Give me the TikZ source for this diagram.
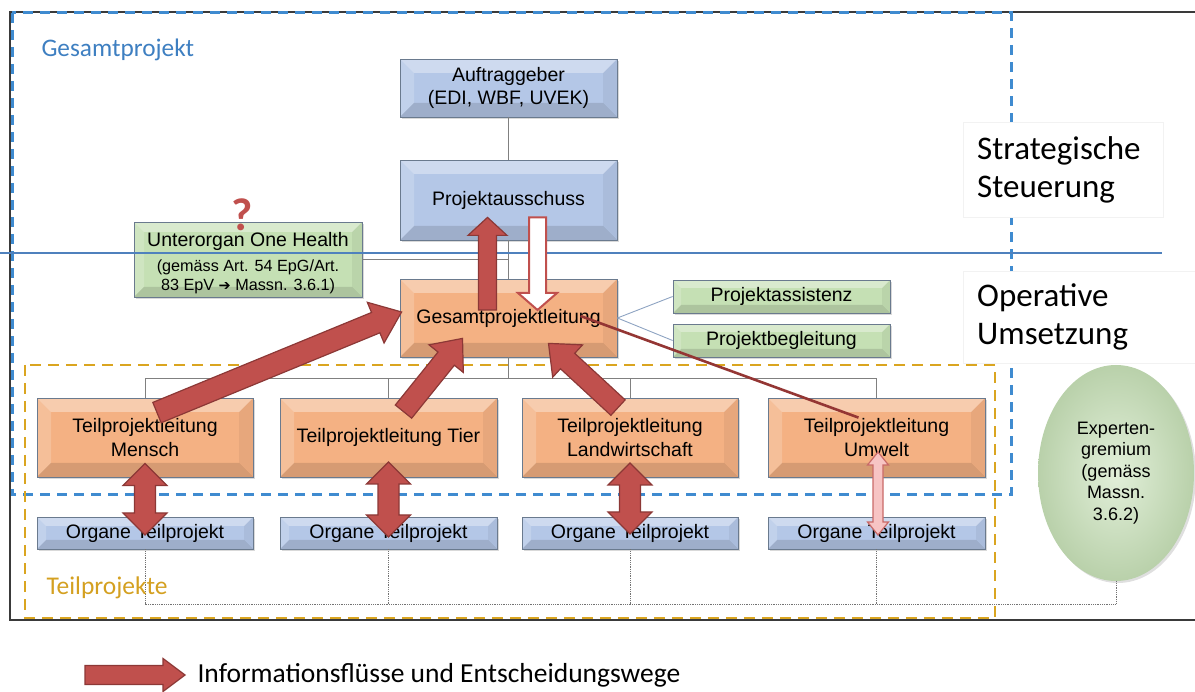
\documentclass[tikz,border=0pt]{standalone}
\usepackage{fontspec}
\setmainfont{Liberation Sans}
\newfontfamily\calfont{Carlito}
\newfontfamily\djv{DejaVu Sans}
\usetikzlibrary{calc,shapes.geometric,shadows}
\definecolor{boxblue}{HTML}{B4C7E7}
\definecolor{boxorange}{HTML}{F4B183}
\definecolor{boxgreen}{HTML}{C5E0B4}
\definecolor{boxline}{HTML}{6A7A8E}
\definecolor{arrred}{HTML}{C0504D}
\definecolor{arrline}{HTML}{8C3836}
\definecolor{dashblue}{HTML}{3F8BD0}
\definecolor{dashgold}{HTML}{DAA520}
\definecolor{hline}{HTML}{4F81BD}
\definecolor{labelblue}{HTML}{3E7FC1}
\definecolor{labelgold}{HTML}{D4A020}
\definecolor{thinred}{HTML}{943634}
\definecolor{pinkfill}{HTML}{F7C4C4}
\definecolor{framec}{HTML}{3A3A3A}
\definecolor{sideline}{HTML}{8EA3C2}

\newcommand\fatarr[6]{%
 \draw[#6] let \p1=(#1), \p2=(#2), \n1={atan2(\y2-\y1,\x2-\x1)}, \p3=($(\p2)!#5pt!(\p1)$) in
 ($(\p1)+({\n1+90}:#3pt)$) -- ($(\p3)+({\n1+90}:#3pt)$) -- ($(\p3)+({\n1+90}:#4pt)$) -- (\p2) -- ($(\p3)+({\n1-90}:#4pt)$) -- ($(\p3)+({\n1-90}:#3pt)$) -- ($(\p1)+({\n1-90}:#3pt)$) -- cycle;}
\newcommand\dblarr[6]{%
 \draw[#6] let \p1=(#1), \p2=(#2), \n1={atan2(\y2-\y1,\x2-\x1)}, \p3=($(\p1)!#5pt!(\p2)$), \p4=($(\p2)!#5pt!(\p1)$) in
 (\p1) -- ($(\p3)+({\n1+90}:#4pt)$) -- ($(\p3)+({\n1+90}:#3pt)$) -- ($(\p4)+({\n1+90}:#3pt)$) -- ($(\p4)+({\n1+90}:#4pt)$) -- (\p2) -- ($(\p4)+({\n1-90}:#4pt)$) -- ($(\p4)+({\n1-90}:#3pt)$) -- ($(\p3)+({\n1-90}:#3pt)$) -- ($(\p3)+({\n1-90}:#4pt)$) -- cycle;}

\tikzset{
 bevel/.style={path picture={
  \fill[white,opacity=.35] let \p1=(path picture bounding box.north west), \p2=(path picture bounding box.south east) in (\x1,\y1) -- (\x2,\y1) -- (\x2-#1,\y1-#1) -- (\x1+#1,\y1-#1) -- cycle;
  \fill[white,opacity=.18] let \p1=(path picture bounding box.north west), \p2=(path picture bounding box.south east) in (\x1,\y1) -- (\x1+#1,\y1-#1) -- (\x1+#1,\y2+#1) -- (\x1,\y2) -- cycle;
  \fill[black,opacity=.05] let \p1=(path picture bounding box.north west), \p2=(path picture bounding box.south east) in (\x2,\y1) -- (\x2,\y2) -- (\x2-#1,\y2+#1) -- (\x2-#1,\y1-#1) -- cycle;
  \fill[black,opacity=.12] let \p1=(path picture bounding box.north west), \p2=(path picture bounding box.south east) in (\x1,\y2) -- (\x1+#1,\y2+#1) -- (\x2-#1,\y2+#1) -- (\x2,\y2) -- cycle;
 }},
 box/.style={draw=boxline, line width=0.8pt, minimum width=217pt, align=center, inner sep=2pt,
   font=\fontsize{19.5}{23.5}\selectfont, drop shadow={opacity=.3, shadow xshift=2pt, shadow yshift=-2pt}},
 bluebox/.style={box, fill=boxblue, bevel=14pt},
 orangebox/.style={box, fill=boxorange, bevel=14pt},
 greenbox/.style={box, fill=boxgreen, bevel=10pt},
 smallblue/.style={box, fill=boxblue, bevel=9pt, minimum height=32pt},
 tree/.style={draw=black!50, line width=0.8pt},
 dotline/.style={draw=black!55, line width=0.8pt, densely dotted},
 redarrow/.style={fill=arrred, draw=arrline, line width=1.2pt, line join=miter},
 hollowarrow/.style={fill=white, draw=arrred, line width=2pt},
 pinkarrow/.style={fill=pinkfill, draw=arrred!85, line width=1.2pt},
 sidetext/.style={draw=black!5, fill=white, anchor=north west, align=left, inner xsep=14pt,
   font=\calfont\fontsize{33}{38}\selectfont},
}

\begin{document}
\begin{tikzpicture}[x=1pt,y=-1pt]
\useasboundingbox (0,0) rectangle (1195,692);

% outer frame and area boxes
\draw[framec, line width=2pt] (1195,12) -- (10,12) -- (10,620) -- (1195,620);
\draw[dashblue, line width=3pt, dash pattern=on 10pt off 7pt] (12,13) rectangle (1011,495);
\draw[dashgold, line width=2.6pt, dash pattern=on 11pt off 7pt] (25,365) rectangle (995,618);

% side labels
\node[sidetext, minimum height=95pt, text width=172pt] (strat) at (963,122) {Strategische\\Steuerung};
\node[sidetext, minimum height=92pt, text width=204pt] (oper) at (963,271) {Operative\\Umsetzung};

% nodes
\node[bluebox, minimum height=58pt] (ag) at (508.5,88) {Auftraggeber\\(EDI, WBF, UVEK)};
\node[bluebox, minimum height=80pt] (pa) at (508.5,200) {Projektausschuss};
\node[orangebox, minimum height=78pt] (gpl) at (508.5,318) {Gesamtprojektleitung};
\node[greenbox, minimum width=228pt, minimum height=75pt] (uo) at (248,259.5)
  {\rule{0pt}{22pt}Unterorgan One Health\\[1.5pt]\fontsize{16.2}{19}\selectfont(gemäss Art. 54 EpG/Art.\\[-4.5pt]\fontsize{16.2}{19}\selectfont 83 EpV {\djv\fontsize{14.5}{19}\selectfont ➔} Massn. 3.6.1)};
\node[greenbox, bevel=8pt, minimum height=33pt] (pas) at (781.5,296.5) {Projektassistenz};
\node[greenbox, bevel=8pt, minimum height=33pt] (pbg) at (781.5,340.5) {Projektbegleitung};

\node[orangebox, minimum width=216pt, minimum height=79pt] (tm) at (145,437.5) {Teilprojektleitung\\Mensch};
\node[orangebox, minimum height=79pt] (tt) at (388.5,437.5) {Teilprojektleitung Tier};
\node[orangebox, minimum width=216pt, minimum height=79pt] (tl) at (630,437.5) {Teilprojektleitung\\Landwirtschaft};
\node[orangebox, minimum height=79pt] (tu) at (876.5,437.5) {Teilprojektleitung\\Umwelt};

\node[smallblue, minimum width=216pt] (om) at (145,533) {Organe Teilprojekt};
\node[smallblue] (ot) at (388.5,533) {Organe Teilprojekt};
\node[smallblue, minimum width=216pt] (ol) at (630,533) {Organe Teilprojekt};
\node[smallblue] (ou) at (876.5,533) {Organe Teilprojekt};

\node[ellipse, minimum width=156pt, minimum height=216pt, inner sep=0pt, align=center,
  shading=radial, inner color=boxgreen!50!white, outer color=boxgreen!92!black!95,
  font=\fontsize{18}{21.5}\selectfont, drop shadow={opacity=.25, shadow xshift=2pt, shadow yshift=-2pt}] (ex) at (1116,473)
  {Experten-\\gremium\\(gemäss\\Massn.\\3.6.2)};

% connectors
\coordinate (bus) at ($(gpl.south)+(0,21)$);
\coordinate (dy) at (0,604);
\draw[tree] (ag.south) -- (pa.north);
\draw[tree] (pa.south) -- (gpl.north);
\draw[tree] (uo.east) -- (uo.east -| pa.south);
\draw[tree] (gpl.south) -- (bus);
\draw[tree] (tm.north) |- (bus) -| (tu.north);
\draw[tree] (tt.north) -- (tt.north |- bus);
\draw[tree] (tl.north) -- (tl.north |- bus);
\draw[sideline, line width=0.9pt] (gpl.east) -- (pas.west);
\draw[sideline, line width=0.9pt] (gpl.east) -- (pbg.west);
\draw[dotline] (om.south) -- (om.south |- dy) -- (ex.south |- dy) -- (ex.south);
\draw[dotline] (ot.south) -- (ot.south |- dy);
\draw[dotline] (ol.south) -- (ol.south |- dy);
\draw[dotline] (ou.south) -- (ou.south |- dy);

% blue separation line
\coordinate (hl0) at (0,253);
\coordinate (hl1) at (1162,253);
\draw[hline, line width=1.2pt] (hl0) -- (hl1);

% question mark and area labels
\node[text=arrred, font=\calfont\bfseries\fontsize{46}{46}\selectfont, inner sep=0pt] (q) at (242.5,215) {?};
\node[anchor=west, text=labelblue, font=\calfont\fontsize{25.3}{28}\selectfont] (lgp) at (38,50) {Gesamtprojekt};
\node[anchor=west, text=labelgold, font=\calfont\fontsize{25.5}{28}\selectfont] (ltp) at (43,588) {Teilprojekte};

% arrows
\coordinate (upS) at ($(gpl.center)+(-21,-8)$);
\coordinate (upE) at ($(pa.south)+(-21,-23)$);
\coordinate (dnS) at ($(pa.south)+(29,-23)$);
\coordinate (dnE) at ($(gpl.center)+(29,-8)$);
\coordinate (mS) at ($(tm.north)+(12,15)$);
\coordinate (mE) at ($(gpl.west)+(2,-6)$);
\coordinate (tS) at ($(tt.north)+(15,14)$);
\coordinate (tE) at ($(gpl.south)+(-46,-19)$);
\coordinate (lS) at ($(tl.north)+(-12,10)$);
\coordinate (lE) at ($(gpl.south)+(40,-14)$);
\coordinate (thS) at ($(gpl.center)+(72,-2)$);
\coordinate (thE) at ($(tu.north)+(-18,20)$);

\fatarr{upS}{upE}{9}{19.5}{18}{redarrow}
\fatarr{dnS}{dnE}{8.5}{19.5}{17}{hollowarrow}
\fatarr{mS}{mE}{11}{22}{28}{redarrow}
\fatarr{tS}{tE}{10.5}{22}{26}{redarrow}
\fatarr{lS}{lE}{10.5}{22}{26}{redarrow}
\draw[thinred, line width=2.6pt] (thS) -- (thE);

\coordinate (dm1) at ($(tm.center)+(0,26)$);
\coordinate (dm2) at ($(om.center)+(0,2)$);
\coordinate (dt1) at ($(tt.center)+(0,24.5)$);
\coordinate (dt2) at ($(ot.center)+(0,4)$);
\coordinate (dl1) at ($(tl.center)+(0,25.5)$);
\coordinate (dl2) at ($(ol.center)+(0,1)$);
\coordinate (du1) at ($(tu.center)+(1.5,14.5)$);
\coordinate (du2) at ($(ou.center)+(1.5,2)$);
\dblarr{dm1}{dm2}{10.5}{22}{22}{redarrow}
\dblarr{dt1}{dt2}{10.5}{22}{22}{redarrow}
\dblarr{dl1}{dl2}{10.5}{22}{22}{redarrow}
\dblarr{du1}{du2}{5}{10.5}{13}{pinkarrow}

% legend
\coordinate (lgS) at (85,675);
\coordinate (lgE) at (185,675);
\fatarr{lgS}{lgE}{9.5}{16.5}{22}{redarrow}
\node[anchor=west, font=\calfont\fontsize{27.5}{30}\selectfont] (lgt) at (194,675) {Informationsflüsse und Entscheidungswege};
\end{tikzpicture}
\end{document}
